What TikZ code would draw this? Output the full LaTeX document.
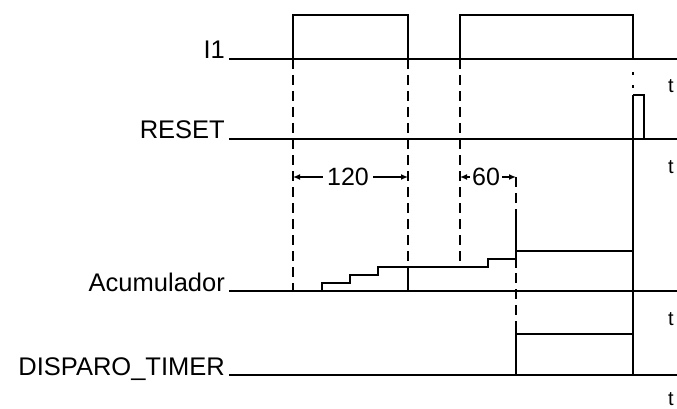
\documentclass[tikz,border=0pt]{standalone}
\usepackage{fontspec}
\setmainfont{Liberation Sans}
\usepackage{tikz}
\usetikzlibrary{arrows.meta,positioning}
\tikzset{
  sigline/.style={
    line width=1.3pt,
    draw=black
  },
  guide/.style={
    line width=1.3pt,
    draw=black,
    dash pattern=on 10pt off 6pt
  },
  siglabel/.style={
    anchor=base east,
    inner sep=0pt,
    font=\fontsize{25.5}{30}\selectfont
  },
  axislabel/.style={
    anchor=base west,
    inner sep=0pt,
    font=\fontsize{20}{24}\selectfont
  },
  dimlabel/.style={
    inner xsep=4pt,
    inner ysep=0pt,
    font=\fontsize{25}{30}\selectfont
  },
  dimarrow/.style={
    -{Latex[length=7pt,width=6pt]},
    line width=1.3pt,
    draw=black
  }
}
\begin{document}
\begin{tikzpicture}[x=1pt,y=-1pt]
\useasboundingbox (0,0) rectangle (677,409);
\clip (0,0) rectangle (677,409);
\node[siglabel] (lblin) at (225,59) {I1};
\node[siglabel] (lblreset) at (225,139) {RESET};
\node[siglabel] (lblacc) at (225,291) {Acumulador};
\node[siglabel] (lbltimer) at (225,375) {DISPARO\_TIMER};
\node[axislabel] (tin) at (668,93) {t};
\node[axislabel] (treset) at (668,173) {t};
\node[axislabel] (tacc) at (668,325) {t};
\node[axislabel] (ttimer) at (668,405) {t};
\draw[sigline] (229,59) -- (677,59);
\draw[sigline] (293,59) |- (408,15) -- (408,59);
\draw[sigline] (460,59) |- (633,15) -- (633,59);
\draw[sigline] (229,139) -- (677,139);
\draw[sigline] (633,95) -| (644,139);
\draw[sigline] (633,95) -- (633,375);
\draw[dash pattern=on 3pt off 10pt, line width=1.3pt] (633,72) -- (633,90);
\draw[sigline] (229,291) -- (677,291);
\draw[sigline] (322,291) |- (350,283) |- (378,275) |- (488,267) |- (516,259);
\draw[sigline] (516,251) -- (633,251);
\draw[sigline] (408,267) -- (408,291);
\draw[sigline] (516,214) -- (516,268);
\draw[sigline] (229,375) -- (677,375);
\draw[sigline] (516,325) -- (516,375);
\draw[sigline] (516,334) -- (633,334);
\draw[guide] (293,59) -- (293,291);
\draw[guide] (408,59) -- (408,267);
\draw[guide] (460,59) -- (460,267);
\draw[guide] (516,177) -- (516,325);
\coordinate (a1) at (293,177);
\coordinate (a2) at (408,177);
\coordinate (b1) at (460,177);
\coordinate (b2) at (516,177);
\node[dimlabel] (d120) at (348,177) {120};
\node[dimlabel, inner xsep=2pt] (d60) at (486,177) {60};
\draw[dimarrow] (d120) -- (a1);
\draw[dimarrow] (d120) -- (a2);
\draw[dimarrow] (d60) -- (b1);
\draw[dimarrow] (d60) -- (b2);
\end{tikzpicture}
\end{document}
